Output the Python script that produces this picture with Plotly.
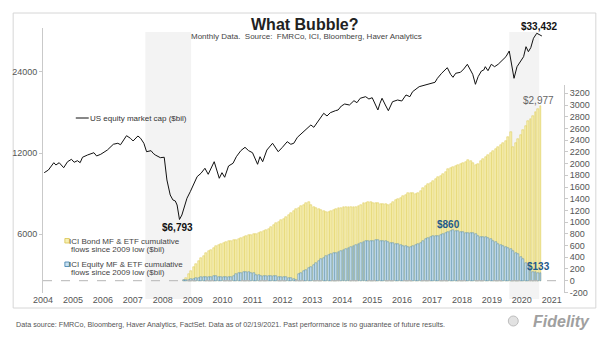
import plotly.graph_objects as go
import pandas as pd

# ---------------- data ----------------
mcap_year = [2004.54, 2004.68, 2004.86, 2004.93, 2005.04, 2005.19, 2005.32, 2005.45, 2005.54, 2005.65,
             2005.74, 2005.82, 2005.99, 2006.20, 2006.29, 2006.43, 2006.65, 2006.85, 2007.00, 2007.09,
             2007.29, 2007.42, 2007.51, 2007.67, 2007.76, 2007.87, 2007.96, 2008.03, 2008.11, 2008.18,
             2008.25, 2008.42, 2008.55, 2008.64, 2008.75, 2008.84, 2008.92, 2008.98, 2009.06, 2009.14,
             2009.22, 2009.31, 2009.42, 2009.53, 2009.65, 2009.78, 2009.91, 2010.02, 2010.22, 2010.39,
             2010.48, 2010.57, 2010.70, 2010.85, 2010.96, 2011.11, 2011.25, 2011.37, 2011.50, 2011.67,
             2011.75, 2011.84, 2011.98, 2012.17, 2012.36, 2012.50, 2012.66, 2012.78, 2012.88, 2013.00,
             2013.14, 2013.36, 2013.45, 2013.55, 2013.71, 2013.88, 2013.99, 2014.10, 2014.27, 2014.36,
             2014.47, 2014.58, 2014.74, 2014.89, 2014.99, 2015.10, 2015.28, 2015.39, 2015.50, 2015.57,
             2015.69, 2015.76, 2015.83, 2015.94, 2016.04, 2016.18, 2016.35, 2016.49, 2016.63, 2016.76,
             2016.85, 2017.07, 2017.29, 2017.46, 2017.60, 2017.68, 2017.82, 2018.01, 2018.12, 2018.20,
             2018.29, 2018.45, 2018.56, 2018.68, 2018.79, 2018.86, 2018.95, 2019.04, 2019.15, 2019.23,
             2019.28, 2019.37, 2019.48, 2019.59, 2019.71, 2019.84, 2019.97, 2020.08, 2020.17, 2020.24,
             2020.34, 2020.45, 2020.56, 2020.64, 2020.72, 2020.80, 2020.89, 2021.00, 2021.11, 2021.17]
mcap_value = [10140, 10375, 11045, 10830, 11045, 10580, 11140, 11370, 11085, 11235,
              11045, 11570, 11800, 12030, 11700, 11870, 12310, 12930, 13040, 12880,
              13915, 13610, 13300, 13880, 13610, 13040, 12135, 12150, 12240, 11970,
              11800, 11530, 11570, 9525, 8380, 8030, 7960, 7690, 6793, 7060,
              7625, 8145, 8615, 9130, 9800, 10090, 10530, 10000, 11140, 9665,
              10140, 9750, 10740, 10990, 11625, 12240, 12600, 12240, 12030, 10895,
              11625, 11140, 12310, 13040, 12135, 12600, 13220, 12930, 13040, 13725,
              14205, 15030, 15250, 14950, 15915, 16855, 16470, 16940, 17235, 17340,
              17940, 18250, 18095, 18775, 18455, 19165, 19430, 19050, 19260, 18615,
              17340, 18360, 19165, 18095, 17235, 18615, 18885, 18725, 19715, 19430,
              20280, 21165, 21475, 21785, 21975, 22740, 23735, 24900, 23530, 22935,
              23735, 23940, 24625, 25635, 24415, 23530, 21600, 23055, 24200, 24415,
              25115, 24270, 25635, 25115, 25635, 26595, 27360, 28725, 25480, 22740,
              25115, 26210, 27360, 29800, 28555, 29545, 32025, 33432, 32940, 32660]

flow_months = pd.period_range("2009-03", "2021-02", freq="M")

bond_flows = (
    [10, 50, 110, 170, 230, 290, 340, 390, 430, 470] +                          # 2009 Mar-Dec
    [500, 530, 560, 590, 610, 620, 640, 660, 670, 680, 690, 700] +              # 2010
    [710, 730, 750, 765, 775, 785, 795, 805, 815, 830, 850, 870] +              # 2011
    [890, 920, 950, 980, 1005, 1030, 1060, 1090, 1120, 1150, 1185, 1220] +      # 2012
    [1245, 1270, 1295, 1320, 1345, 1300, 1265, 1245, 1225, 1205, 1185, 1170] +  # 2013
    [1180, 1195, 1210, 1225, 1240, 1250, 1255, 1260, 1262, 1262, 1260, 1258] +  # 2014
    [1280, 1300, 1320, 1335, 1345, 1340, 1335, 1325, 1320, 1318, 1315, 1305] +  # 2015
    [1300, 1310, 1340, 1370, 1390, 1410, 1440, 1470, 1495, 1505, 1490, 1475] +  # 2016
    [1500, 1540, 1575, 1610, 1645, 1675, 1705, 1740, 1765, 1795, 1820, 1850] +  # 2017
    [1900, 1925, 1940, 1955, 1970, 1985, 2005, 2030, 2055, 2040, 2010, 1975] +  # 2018
    [2000, 2040, 2075, 2110, 2150, 2185, 2215, 2250, 2285, 2320, 2355, 2390] +  # 2019
    [2460, 2540, 2290, 2350, 2420, 2490, 2570, 2650, 2720, 2770, 2820, 2880] +  # 2020
    [2935, 2977]                                                                # 2021 Jan-Feb
)
equity_flows = (
    [5, 8, 15, 22, 30, 38, 45, 55, 60, 62] +
    [60, 68, 78, 80, 70, 62, 60, 58, 62, 70, 85, 110] +
    [125, 135, 145, 152, 150, 140, 125, 105, 92, 85, 82, 80] +
    [80, 78, 76, 72, 66, 62, 60, 58, 52, 40, 25, 15] +
    [110, 140, 170, 190, 220, 235, 270, 300, 340, 375, 395, 420] +
    [435, 455, 470, 480, 490, 505, 520, 540, 555, 575, 595, 610] +
    [625, 645, 660, 670, 678, 682, 686, 690, 688, 686, 684, 675] +
    [660, 650, 645, 630, 620, 610, 600, 590, 580, 570, 590, 615] +
    [625, 650, 680, 710, 725, 740, 755, 765, 770, 780, 800, 820] +
    [840, 855, 860, 850, 842, 835, 828, 820, 815, 812, 808, 790] +
    [770, 750, 742, 738, 725, 705, 680, 655, 630, 605, 585, 570] +
    [555, 545, 510, 480, 450, 410, 370, 310, 250, 175, 155, 148] +
    [140, 133]
)

year_labels = [str(y) for y in range(2004, 2022)]
left_ticks = [6000, 12000, 24000]
right_ticks = list(range(-200, 3201, 200))
shade_periods = [(2007.92, 2009.45), (2020.08, 2021.08)]

# ---------------- layout helpers ----------------
W, H = 605, 341
L, R, T, B = 40, 564, 28, 293
PW, PH = R - L, B - T


def px(x):
    return (x - L) / PW


def py(y):
    return (B - y) / PH


flow_x = [p.year + (p.month - 0.5) / 12 for p in flow_months]
tick_pos = [int(s) + 0.5 for s in year_labels]

FONT = "Liberation Sans, Arial, sans-serif"
NARROW = "Liberation Sans Narrow, Liberation Sans, Arial, sans-serif"

BOND_FILL, BOND_LINE = "#f7efb2", "#dccb4e"
EQ_FILL, EQ_LINE = "#cae2f1", "#3a7cab"

fig = go.Figure()

fig.add_trace(go.Bar(
    x=flow_x, y=bond_flows, xaxis="x", yaxis="y2", width=0.064,
    marker=dict(color=BOND_FILL, line=dict(color=BOND_LINE, width=0.5)),
    showlegend=False, hoverinfo="skip"))
fig.add_trace(go.Bar(
    x=flow_x, y=equity_flows, xaxis="x", yaxis="y2", width=0.064,
    marker=dict(color=EQ_FILL, line=dict(color=EQ_LINE, width=0.45)),
    showlegend=False, hoverinfo="skip"))
fig.add_trace(go.Scatter(
    x=mcap_year, y=mcap_value, mode="lines", xaxis="x", yaxis="y",
    line=dict(color="#111111", width=1), showlegend=False, hoverinfo="skip"))

shapes = []
for a, b in shade_periods:
    shapes.append(dict(type="rect", xref="x", yref="paper", x0=a, x1=b,
                       y0=py(299), y1=py(32), fillcolor="#f3f3f3",
                       line=dict(width=0), layer="below"))
# frame
shapes.append(dict(type="rect", xref="paper", yref="paper",
                   x0=px(10), x1=px(596), y0=py(308), y1=py(13),
                   line=dict(color="#d6d6d6", width=1), layer="below"))
# zero line of flows
shapes.append(dict(type="line", xref="paper", yref="y2", x0=0, x1=1, y0=0, y1=0,
                   line=dict(color="#b5b5b5", width=1, dash="dash")))
# legend samples
shapes.append(dict(type="line", xref="paper", yref="paper",
                   x0=px(73), x1=px(86), y0=py(118), y1=py(118),
                   line=dict(color="#111111", width=1)))
shapes.append(dict(type="rect", xref="paper", yref="paper",
                   x0=px(62), x1=px(66.5), y0=py(243), y1=py(238.5),
                   fillcolor=BOND_FILL, line=dict(color="#d9c550", width=0.8)))
shapes.append(dict(type="rect", xref="paper", yref="paper",
                   x0=px(62), x1=px(66.5), y0=py(266.5), y1=py(262),
                   fillcolor=EQ_FILL, line=dict(color=EQ_LINE, width=0.8)))
# logo mark
shapes.append(dict(type="circle", xref="paper", yref="paper",
                   x0=px(508), x1=px(518), y0=py(326), y1=py(316),
                   fillcolor="#e2e2e2", line=dict(color="#bdbdbd", width=1)))


def ann(x, y, text, size=8, color="#333333", xanchor="left", bold=False,
        family=FONT, italic=False):
    return dict(x=px(x), y=py(y), xref="paper", yref="paper", text=text,
                showarrow=False, xanchor=xanchor, yanchor="middle", borderpad=0,
                font=dict(size=size, color=color, family=family,
                          weight="bold" if bold else "normal",
                          style="italic" if italic else "normal"))


annotations = [
    ann(304, 24, "What Bubble?", size=16, color="#222222", xanchor="center", bold=True),
    ann(188, 36.5, "Monthly Data.  Source:  FMRCo, ICI, Bloomberg, Haver Analytics",
        size=8, color="#444444"),
    ann(86, 118, "US equity market cap ($bil)", size=8, color="#333333"),
    ann(65, 241, "ICI Bond MF & ETF cumulative", size=8, color="#444444"),
    ann(67, 249, "flows since 2009 low ($bil)", size=8, color="#444444"),
    ann(65, 264.5, "ICI Equity MF & ETF cumulative", size=8, color="#444444"),
    ann(67, 272.5, "flows since 2009 low ($bil)", size=8, color="#444444"),
    ann(539, 26, "$33,432", size=10, color="#111111", xanchor="center", bold=True),
    ann(538, 100, "$2,977", size=10, color="#666666", xanchor="center"),
    ann(175, 227, "$6,793", size=10, color="#111111", xanchor="center", bold=True),
    ann(448, 224, "$860", size=10, color="#1f5a8a", xanchor="center", bold=True),
    ann(538, 266, "$133", size=10, color="#1f5a8a", xanchor="center", bold=True),
    ann(12, 324.5, "Data source: FMRCo, Bloomberg, Haver Analytics, FactSet. Data as of 02/19/2021. "
        "Past performance is no guarantee of future results.", size=7.2, color="#555555",
        family=NARROW),
    ann(591, 321.5, "Fidelity", size=16, color="#a0a0a0", xanchor="right", bold=True,
        italic=True),
]

fig.update_layout(
    width=W, height=H,
    margin=dict(l=L, r=W - R, t=T, b=H - B, pad=0),
    paper_bgcolor="white", plot_bgcolor="rgba(0,0,0,0)",
    barmode="overlay", bargap=0,
    shapes=shapes, annotations=annotations,
    font=dict(family=FONT, color="#555555", size=9),
    xaxis=dict(domain=[0, 1], range=[2004.499, 2021.91], tickmode="array",
               tickvals=tick_pos, ticktext=year_labels, showgrid=False,
               zeroline=False, showline=False, ticks="",
               tickfont=dict(size=9, color="#555555", family=NARROW)),
    yaxis=dict(type="log", domain=[0, 1], range=[3.5589, 4.5437],
               tickmode="array", tickvals=left_ticks,
               ticktext=[str(v) for v in left_ticks],
               showgrid=False, zeroline=False, showline=True,
               linecolor="#c9c9c9", linewidth=1, ticks="outside", ticklen=3,
               tickcolor="#c9c9c9", tickfont=dict(size=9, color="#555555")),
    yaxis2=dict(anchor="x", side="right", domain=[py(293), py(85)],
                range=[-210, 3342], tickmode="array", tickvals=right_ticks,
                ticktext=[str(v) for v in right_ticks],
                showgrid=False, zeroline=False, showline=True,
                linecolor="#c9c9c9", linewidth=1, ticks="outside", ticklen=3,
                tickcolor="#c9c9c9", tickfont=dict(size=9, color="#555555")),
)

fig.write_html("out.html")
